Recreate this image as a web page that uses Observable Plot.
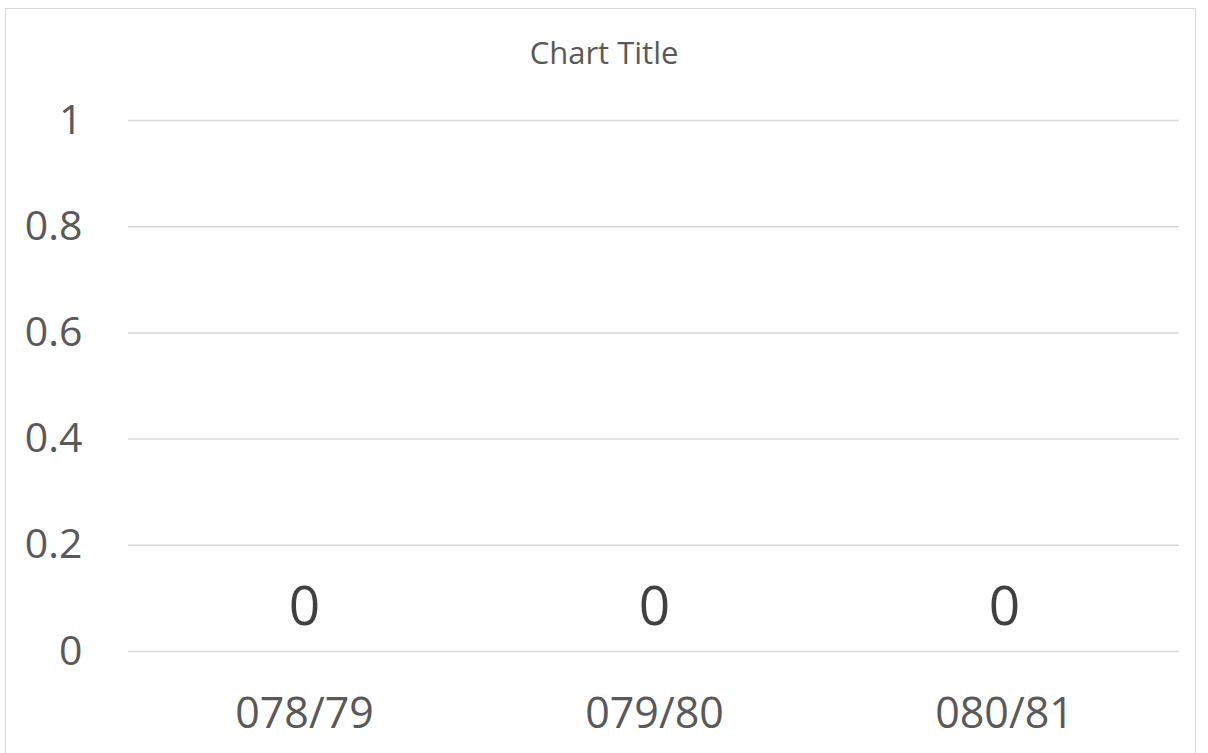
<!DOCTYPE html>
<html>
<head>
<meta charset="utf-8">
<script src="https://cdn.jsdelivr.net/npm/d3@7"></script>
<script src="https://cdn.jsdelivr.net/npm/@observablehq/plot@0.6"></script>
<style>
  html, body { margin: 0; padding: 0; background: #fff; overflow: hidden; }
  #wrap { position: relative; width: 1208px; height: 753px; }
  #frame { position: absolute; left: 5px; top: 8px; width: 1191px; height: 760px; border: 1.5px solid #d9d9d9; box-sizing: border-box; }
  #title { position: absolute; left: 0; width: 1208px; top: 31px; text-align: center; font-family: "Open Sans", sans-serif; font-size: 31px; color: #595959; }
  #chart { position: absolute; left: 0; top: 0; }
</style>
</head>
<body>
<div id="wrap">
  <div id="frame"></div>
  <div id="chart"></div>
  <div id="title">Chart Title</div>
</div>
<script>
const categories = ["078/79", "079/80", "080/81"];
const values = [0, 0, 0];
const yTicks = [0, 0.2, 0.4, 0.6, 0.8, 1];
const title = "Chart Title";

const data = categories.map((c, i) => ({category: c, value: values[i]}));
document.getElementById("title").textContent = title;

const chart = Plot.plot({
  width: 1208,
  height: 753,
  marginLeft: 128,
  marginRight: 29,
  marginTop: 120,
  marginBottom: 102,
  style: {fontFamily: "'Open Sans', sans-serif", background: "transparent"},
  x: {domain: categories, padding: 0},
  y: {domain: [0, 1]},
  marks: [
    Plot.gridY(yTicks, {stroke: "#d9d9d9", strokeOpacity: 1, strokeWidth: 1.5}),
    Plot.axisY(yTicks, {tickSize: 0, tickPadding: 46, fontSize: 41, fill: "#595959", label: null, tickFormat: d => String(d)}),
    Plot.axisX({tickSize: 0, tickPadding: 46, fontSize: 43, fill: "#595959", label: null}),
    Plot.barY(data, {x: "category", y: "value", fill: "#4472c4", insetLeft: 60, insetRight: 60}),
    Plot.text(data, {x: "category", y: "value", text: d => String(d.value), fontSize: 55, fill: "#404040", dy: -44})
  ]
});
document.getElementById("chart").appendChild(chart);
</script>
</body>
</html>
